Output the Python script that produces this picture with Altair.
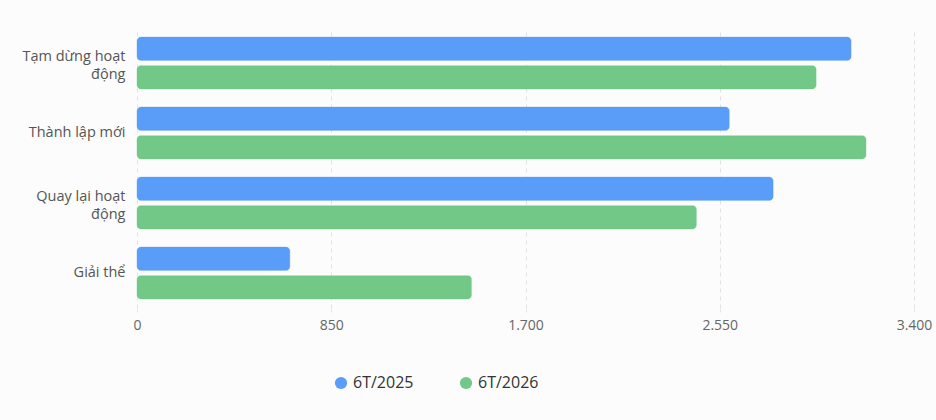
import altair as alt
import pandas as pd

categories = ["Tạm dừng hoạt động", "Thành lập mới", "Quay lại hoạt động", "Giải thể"]
series = ["6T/2025", "6T/2026"]
values_2025 = [3125, 2592, 2784, 669]
values_2026 = [2972, 3190, 2448, 1464]
x_ticks = [0, 850, 1700, 2550, 3400]
colors = ["#5a9df8", "#71c887"]

rows = []
for c, a, b in zip(categories, values_2025, values_2026):
    rows.append({"cat": c, "series": series[0], "value": a})
    rows.append({"cat": c, "series": series[1], "value": b})
df = pd.DataFrame(rows)

font = "Open Sans"
multi = "indexof(datum.value, ' hoạt động') > 0"

chart = alt.Chart(df).mark_bar(cornerRadius=4, strokeWidth=1, strokeOpacity=0.35).encode(
    y=alt.Y("cat:N", sort=categories, title=None,
            scale=alt.Scale(paddingInner=0.26, paddingOuter=0.13),
            axis=alt.Axis(domain=False, ticks=False, labelPadding=12, labelFontSize=14.5,
                          labelColor="#555555", labelFont=font, labelLimit=200,
                          labelBaseline="middle",
                          labelOffset={"condition": {"test": multi, "value": -6}, "value": 0},
                          labelExpr="indexof(datum.label, ' hoạt động') > 0 ? [replace(datum.label, ' động', ''), 'động'] : datum.label",
                          labelLineHeight=17.5)),
    yOffset=alt.YOffset("series:N", sort=series, scale=alt.Scale(paddingInner=0.18)),
    x=alt.X("value:Q", title=None,
            scale=alt.Scale(domain=[0, 3400], nice=False),
            axis=alt.Axis(values=x_ticks, domain=False, ticks=True, tickSize=4, tickColor="#e6e6e6",
                          labelPadding=6, labelFontSize=14, labelColor="#666666", labelFont=font,
                          labelFlush=False,
                          gridDash=[4, 4], gridColor="#e2e2e2", grid=True,
                          labelExpr="replace(format(datum.value, ','), ',', '.')")),
    color=alt.Color("series:N", sort=series,
                    scale=alt.Scale(domain=series, range=colors),
                    legend=alt.Legend(title=None, orient="none", legendX=196, legendY=347,
                                      direction="horizontal", symbolType="circle", symbolSize=150,
                                      labelFontSize=16, labelColor="#333333", labelFont=font,
                                      columnPadding=44, symbolStrokeWidth=0)),
    stroke=alt.Color("series:N", sort=series, scale=alt.Scale(domain=series, range=colors), legend=None),
).properties(
    width=777, height=280,
    autosize=alt.AutoSizeParams(type="none"),
    padding={"left": 137, "top": 28, "right": 22, "bottom": 112},
    background="#fcfcfc",
).configure_view(stroke=None)

chart.save("out.html", embed_options={"renderer": "svg", "actions": False})
